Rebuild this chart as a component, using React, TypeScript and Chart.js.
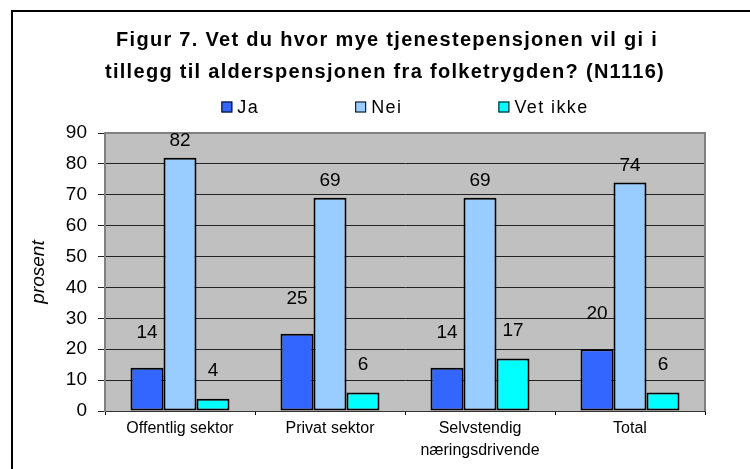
import React, { useEffect, useRef } from 'react';
import { Chart, registerables } from 'chart.js';

Chart.register(...registerables);

// ---- data ----
const categories: string[][] = [
  ['Offentlig sektor'],
  ['Privat sektor'],
  ['Selvstendig', 'næringsdrivende'],
  ['Total'],
];
const seriesNames = ['Ja', 'Nei', 'Vet ikke'];
const jaValues = [14, 25, 14, 20];
const neiValues = [82, 69, 69, 74];
const vetIkkeValues = [4, 6, 17, 6];
const yMin = 0;
const yMax = 90;
const yStep = 10;
const titleLines = [
  'Figur 7. Vet du hvor mye tjenestepensjonen vil gi i',
  'tillegg til alderspensjonen fra folketrygden? (N1116)',
];
const yAxisTitle = 'prosent';

// ---- styles ----
const FONT = '"Liberation Sans", Arial, Helvetica, sans-serif';
const seriesColors = ['#3366FF', '#99CCFF', '#00FFFF'];
const labelOffsets = [35, 17, 28];

const decorPlugin = {
  id: 'decor',
  beforeDraw(chart: any) {
    const { ctx, chartArea: a, width, height } = chart;
    ctx.save();
    ctx.fillStyle = '#ffffff';
    ctx.fillRect(0, 0, width, height);
    // outer frame
    ctx.strokeStyle = '#000';
    ctx.lineWidth = 2;
    ctx.strokeRect(12, 11, width + 40, height + 40);
    // plot background
    ctx.fillStyle = '#C0C0C0';
    ctx.fillRect(a.left, a.top, a.right - a.left, a.bottom - a.top);

    // title
    ctx.fillStyle = '#000';
    ctx.textAlign = 'center';
    ctx.textBaseline = 'middle';
    ctx.font = `bold 20px ${FONT}`;
    (ctx as any).letterSpacing = '1.3px';
    ctx.fillText(titleLines[0], 387, 40);
    ctx.fillText(titleLines[1], 385, 72);

    // legend
    ctx.font = `18px ${FONT}`;
    (ctx as any).letterSpacing = '1.4px';
    const box = 11;
    const gap = 5;
    const spacing = 96;
    const widths = seriesNames.map((n) => box + gap + ctx.measureText(n).width);
    const total = widths.reduce((s, w) => s + w, 0) + spacing * (seriesNames.length - 1);
    let x = (a.left + a.right) / 2 - total / 2;
    const ly = 107;
    ctx.textAlign = 'left';
    seriesNames.forEach((n, i) => {
      ctx.fillStyle = seriesColors[i];
      ctx.fillRect(x, ly - box / 2, box, box);
      ctx.strokeStyle = '#000';
      ctx.lineWidth = 1;
      ctx.strokeRect(x + 0.5, ly - box / 2 + 0.5, box - 1, box - 1);
      ctx.fillStyle = '#000';
      ctx.fillText(n, x + box + gap, ly + 1);
      x += widths[i] + spacing;
    });
    (ctx as any).letterSpacing = '0px';
    ctx.restore();
  },
  beforeDatasetsDraw(chart: any) {
    const { ctx, chartArea: a } = chart;
    ctx.save();
    ctx.strokeStyle = '#808080';
    ctx.lineWidth = 2;
    ctx.beginPath();
    ctx.moveTo(a.left, a.top);
    ctx.lineTo(a.right, a.top);
    ctx.lineTo(a.right, a.bottom);
    ctx.stroke();
    ctx.restore();
  },
  afterDatasetsDraw(chart: any) {
    const { ctx } = chart;
    ctx.save();
    ctx.fillStyle = '#000';
    ctx.font = `19px ${FONT}`;
    ctx.textAlign = 'center';
    ctx.textBaseline = 'middle';
    chart.data.datasets.forEach((ds: any, i: number) => {
      const meta = chart.getDatasetMeta(i);
      meta.data.forEach((bar: any, j: number) => {
        ctx.fillText(String(ds.data[j]), bar.x, bar.y - labelOffsets[i]);
      });
    });
    ctx.restore();
  },
};

export default function App() {
  const ref = useRef<HTMLCanvasElement | null>(null);
  useEffect(() => {
    if (!ref.current) return;
    const seriesData = [jaValues, neiValues, vetIkkeValues];
    const chart = new Chart(ref.current, {
      type: 'bar',
      data: {
        labels: categories,
        datasets: seriesNames.map((name, i) => ({
          label: name,
          data: seriesData[i],
          backgroundColor: seriesColors[i],
          borderColor: '#000',
          borderWidth: 2,
          borderSkipped: false,
          categoryPercentage: 0.66,
          barPercentage: 1.0,
        })),
      },
      options: {
        responsive: false,
        animation: false,
        devicePixelRatio: 1,
        layout: { padding: { top: 133, right: 45, left: 0, bottom: 0 } },
        plugins: {
          legend: { display: false },
          title: { display: false },
          tooltip: { enabled: false },
        },
        scales: {
          x: {
            grid: {
              display: true,
              drawOnChartArea: false,
              drawTicks: true,
              tickLength: 4,
              color: '#000',
              offset: true,
            },
            border: { display: true, color: '#333', width: 1 },
            ticks: {
              color: '#000',
              font: { family: FONT, size: 16, lineHeight: 1.375 },
              padding: 3,
              maxRotation: 0,
              autoSkip: false,
            },
            afterFit: (scale: any) => {
              scale.height = 58;
            },
          },
          y: {
            min: yMin,
            max: yMax,
            ticks: {
              stepSize: yStep,
              color: '#000',
              font: { family: FONT, size: 19 },
              padding: 11,
            },
            grid: {
              color: '#222',
              lineWidth: 1,
              drawTicks: true,
              tickLength: 7,
            },
            border: { display: true, color: '#808080', width: 2 },
            title: {
              display: true,
              text: yAxisTitle,
              color: '#000',
              font: { family: FONT, size: 19, style: 'italic' },
              padding: { top: 27, bottom: 0 },
            },
            afterFit: (scale: any) => {
              scale.width = 105;
            },
          },
        },
      },
      plugins: [decorPlugin],
    } as any);
    return () => chart.destroy();
  }, []);
  return (
    <div style={{ position: 'fixed', left: 0, top: 0, width: 750, height: 469, background: '#fff' }}>
      <canvas ref={ref} width={750} height={469} style={{ display: 'block' }} />
    </div>
  );
}
